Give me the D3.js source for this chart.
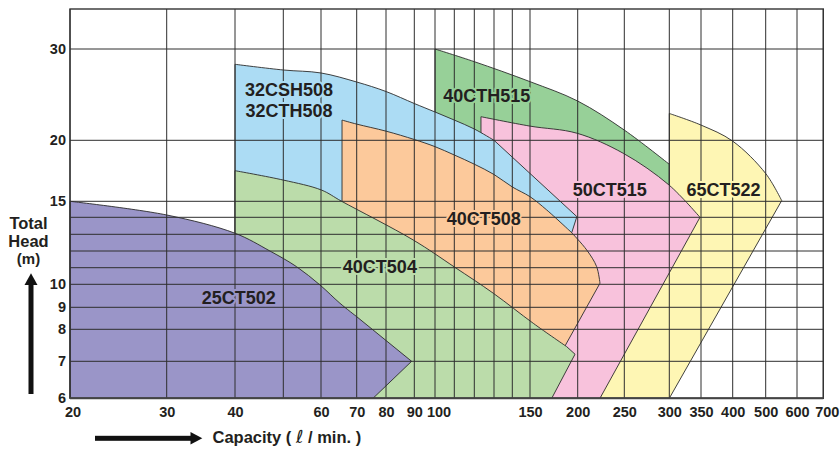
<!DOCTYPE html>
<html><head><meta charset="utf-8">
<script src="https://cdn.jsdelivr.net/npm/d3@7"></script>
<style>
body{margin:0;background:#fff;}
svg{display:block;font-family:"Liberation Sans",Arial,Helvetica,sans-serif;font-weight:bold;}
</style></head><body>
<svg id="chart" width="840" height="450"></svg>
<script>
// ---------- data (capacity in L/min, total head in m) ----------
const xTickLabels = [20,30,40,60,70,80,90,100,150,200,250,300,350,400,500,600,700];
const xGridValues = [20,30,40,50,60,70,80,90,100,110,120,130,140,150,200,250,300,350,400,500,600,700];
const yTickLabels = [6,7,8,9,10,15,20,30];
const yGridValues = [6,7,8,9,10,11,12,13,14,15,20,30];

// drawing order back -> front
const pumpNames  = ["40CTH515","65CT522","50CT515","32CSH508","40CT508","40CT504","25CT502"];
const pumpColors = ["#97d098","#fef6b4","#f8c2dc","#acdcf4","#fcc99b","#bbdcaa","#9a95c8"];

// boundary runs of each performance area: [capacity, head]
const top_40CTH515  = [[100,30],[120,28.36],[150,25.95],[200,23.81],[250,20.93],[300,17.86]];
const rest_40CTH515 = [[300,15.1],[100,20]];

const top_65CT522   = [[300,22.53],[350,21.4],[400,19.92],[500,17.1],[548.8,15.05]];
const rest_65CT522  = [[300,6],[222.5,6],[300,15.1]];

const top_50CT515   = [[123.3,22.21],[150,21.3],[199,20.64],[248.8,18.81],[299.6,16.2],[348.3,14.0]];
const rest_50CT515  = [[222.5,6],[159.3,6],[123.3,12]];

const top_32CSH508  = [[40,28.03],[50,27.33],[60,26.97],[70,25.91],[80,24.84],[90,23.55],[100,22.68],[110,21.88],[120,21.03],[130,20.0]];
const rest_32CSH508 = [[199,14.04],[192.9,13.09],[65.7,12.5],[40,12.5]];

const top_40CT508   = [[65.7,21.88],[70,21.49],[80,20.83],[90,20.07],[100,19.41],[110,18.66],[120,17.87],[130,17.02],[140,16.05],[150,15.33],[165.9,14.45],[192.9,13.09]];
const bulge_40CT508 = [[192.9,13.09],[208.8,12.06],[219,11.06],[222.5,10.06]];
const rest_40CT508  = [[185,7.45],[65.7,12]];

const top_40CT504   = [[40,17.33],[50,16.58],[60.1,15.82],[65.6,15.0],[89.6,12.65],[110.3,11.02],[129.6,9.6],[153,8.26],[187.2,7.44]];
const rest_40CT504  = [[196.8,7.21],[171,6],[40,6]];

const top_25CT502   = [[20,15],[30,14.14],[40,13.06],[47,12.0],[53.3,11.06],[59.7,9.97],[65.1,9.17],[70,8.56]];
const rest_25CT502  = [[89,7],[75.4,6],[20,6]];

// area labels (a label may hold several lines)
const labelLines = [["32CSH508","32CTH508"],["40CTH515"],["40CT508"],["50CT515"],["65CT522"],["40CT504"],["25CT502"]];
const labelPump  = ["32CSH508","40CTH515","40CT508","50CT515","65CT522","40CT504","25CT502"];
const labelQ     = [51.4,126.2,124.7,233.1,384.8,77.8,40.7];
const labelH     = [24.3,23.7,13.54,15.4,15.4,10.65,9.14];

// ---------- scales (chart uses a hand-ruled, piecewise log grid) ----------
const svg = d3.select("#chart");
const x = d3.scaleLog()
  .domain(xGridValues)
  .range([70,166.7,235,283.3,321,356.7,386,414.3,435,454.3,474.3,494,512.3,530,577.7,624.3,669.3,701,732.7,765.7,797,823.3]);
const y = d3.scaleLog()
  .domain([...yGridValues, 36])
  .range([398.3,361.3,329.3,307.3,284.3,267.7,251,234.3,217.3,201.3,140.3,49,9]);

const X0 = x(20), X1 = x(700), Y0 = y(6), Y1 = y(36);

// ---------- areas ----------
const smooth = d3.line().x(d=>x(d[0])).y(d=>y(d[1])).curve(d3.curveCatmullRom.alpha(0.5));
function regionPath(segs){
  let s = "";
  segs.forEach((seg,i)=>{
    if (seg.length === 1) {
      s += (i ? "L" : "M") + x(seg[0][0]) + "," + y(seg[0][1]);
    } else {
      let p = smooth(seg);
      if (i) p = "L" + p.slice(1);
      s += p;
    }
  });
  return s + "Z";
}
const outlines = {
  "40CTH515": [top_40CTH515, ...rest_40CTH515.map(p=>[p])],
  "65CT522":  [top_65CT522,  ...rest_65CT522.map(p=>[p])],
  "50CT515":  [top_50CT515,  ...rest_50CT515.map(p=>[p])],
  "32CSH508": [top_32CSH508, ...rest_32CSH508.map(p=>[p])],
  "40CT508":  [top_40CT508, bulge_40CT508, ...rest_40CT508.map(p=>[p])],
  "40CT504":  [top_40CT504,  ...rest_40CT504.map(p=>[p])],
  "25CT502":  [top_25CT502,  ...rest_25CT502.map(p=>[p])]
};
const colorOf = d3.scaleOrdinal().domain(pumpNames).range(pumpColors);

svg.append("g").selectAll("path").data(pumpNames).join("path")
  .attr("d", n => regionPath(outlines[n]))
  .attr("fill", n => colorOf(n))
  .attr("stroke", "#2b2b2b").attr("stroke-width", 0.9).attr("stroke-linejoin","round");

// ---------- grid ----------
const grid = svg.append("g").attr("stroke","#2e2e2e").attr("stroke-width",1);
grid.selectAll("line.v").data(xGridValues).join("line").attr("class","v")
  .attr("x1", d=>x(d)).attr("x2", d=>x(d)).attr("y1", Y1).attr("y2", Y0);
grid.selectAll("line.h").data(yGridValues).join("line").attr("class","h")
  .attr("x1", X0).attr("x2", X1).attr("y1", d=>y(d)).attr("y2", d=>y(d));

svg.append("rect").attr("x",X0).attr("y",Y1).attr("width",X1-X0).attr("height",Y0-Y1)
  .attr("fill","none").attr("stroke","#333").attr("stroke-width",1.4);
svg.append("line").attr("x1",X0).attr("x2",X1).attr("y1",Y0).attr("y2",Y0)
  .attr("stroke","#444").attr("stroke-width",2);

// ---------- area labels ----------
const lab = svg.append("g").selectAll("text").data(labelLines).join("text")
  .attr("y", (d,i)=>y(labelH[i]))
  .attr("text-anchor","middle")
  .attr("font-size", 18).attr("fill","#231f20")
  .attr("stroke", (d,i)=>colorOf(labelPump[i])).attr("stroke-width",4)
  .attr("paint-order","stroke").attr("stroke-linejoin","round");
lab.each(function(lines,i){
  d3.select(this).selectAll("tspan").data(lines).join("tspan")
    .attr("x", x(labelQ[i]))
    .attr("dy", (d,j)=> j ? 20.5 : 0)
    .text(d=>d);
});

// ---------- axes ----------
const fmt = d3.format("d");
const xAxis = svg.append("g").attr("transform",`translate(0,${Y0})`)
  .call(d3.axisBottom(x).tickValues(xTickLabels).tickFormat(fmt).tickSize(0).tickPadding(8));
const yAxis = svg.append("g").attr("transform",`translate(${X0},0)`)
  .call(d3.axisLeft(y).tickValues(yTickLabels).tickFormat(fmt).tickSize(0).tickPadding(4));
[xAxis,yAxis].forEach(g=>{
  g.select(".domain").remove();
  g.selectAll("text").attr("font-family","Liberation Sans, Arial, sans-serif")
    .attr("font-weight","bold").attr("font-size",14.5).attr("fill","#231f20");
});
// first, crowded and last labels sit slightly right of their grid lines
xAxis.selectAll(".tick text").attr("dx", d => (d === 20 ? 2.5 : d === 100 ? 3.5 : d === 700 ? 3.5 : 0));

// ---------- axis titles and arrows ----------
const yTitle = svg.append("g").attr("text-anchor","middle").attr("fill","#231f20");
yTitle.append("text").attr("x",28.5).attr("y",228.5).attr("font-size",16.5).text("Total");
yTitle.append("text").attr("x",28.5).attr("y",247.3).attr("font-size",16.5).text("Head");
yTitle.append("text").attr("x",28.5).attr("y",263.5).attr("font-size",15).text("(m)");

svg.append("rect").attr("x",28.5).attr("y",283).attr("width",5).attr("height",111).attr("fill","#111");
svg.append("path").attr("d","M31,273.3 L37.5,285 L24.5,285 Z").attr("fill","#111");

svg.append("rect").attr("x",95).attr("y",435.8).attr("width",97).attr("height",5).attr("fill","#111");
svg.append("path").attr("d","M202.3,438.3 L190.5,432 L190.5,444.6 Z").attr("fill","#111");

const cap = svg.append("text").attr("x",212.5).attr("y",443.3).attr("font-size",16.5).attr("fill","#231f20");
cap.append("tspan").text("Capacity ( ");
cap.append("tspan").attr("font-family","DejaVu Sans").attr("font-style","italic").attr("font-weight","normal").attr("font-size",18).text("ℓ");
cap.append("tspan").text(" / min. )");
</script>
</body></html>
